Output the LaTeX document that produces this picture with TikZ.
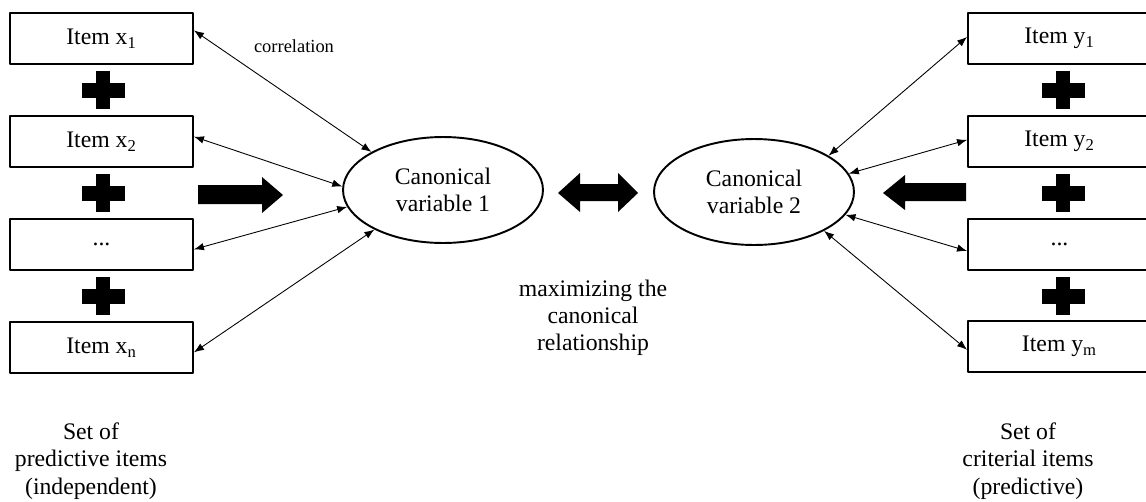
\documentclass[tikz,border=0pt]{standalone}
\usepackage{fontspec}
\setmainfont{Liberation Serif}
\usetikzlibrary{shapes.geometric,arrows.meta}
\begin{document}
\begin{tikzpicture}[x=0.02cm,y=-0.02cm,font=\fontsize{13.5}{15.5}\selectfont,line join=round,>={Latex[length=2mm,width=1.5mm]},
  item/.style={draw,line width=1.1pt,minimum width=3.66cm,minimum height=1.02cm,inner sep=0pt},
  canon/.style={draw,ellipse,line width=1.1pt,minimum width=4cm,minimum height=2.12cm,inner sep=0pt,align=center},
  link/.style={<->,line width=0.5pt}]
\clip (0,0) rectangle (1146,501);
% predictive items
\node[item] (x1) at (101.5,38.5) {Item x\textsubscript{1}};
\node[item] (x2) at (101.5,141.5) {Item x\textsubscript{2}};
\node[item] (x3) at (101.5,244.5) {...};
\node[item] (xn) at (101.5,347.5) {Item x\textsubscript{n}};
% criterial items
\node[item] (y1) at (1059.5,38.5) {Item y\textsubscript{1}};
\node[item] (y2) at (1059.5,141.5) {Item y\textsubscript{2}};
\node[item] (y3) at (1059.5,244.5) {...};
\node[item] (ym) at (1059.5,346.5) {Item y\textsubscript{m}};
% plus signs
\foreach \px in {103,1063} {
\foreach \y in {90,193,296} {
  \fill (\px-21.5,\y-7.5) rectangle (\px+21.5,\y+7.5);
  \fill (\px-7,\y-19) rectangle (\px+7,\y+19);
}}
% canonical variables
\node[canon] (c1) at (443,190) {Canonical\\variable 1};
\node[canon] (c2) at (754,192) {Canonical\\variable 2};
% big arrows
\fill (198,185) -- (262,185) -- (262,177) -- (283,195) -- (262,213) -- (262,204) -- (198,204) -- cycle;
\fill (558,193) -- (580,173) -- (580,184) -- (618,184) -- (618,173) -- (638,193) -- (618,212) -- (618,201) -- (580,201) -- (580,212) -- cycle;
\fill (883,193) -- (905,175) -- (905,183) -- (966,183) -- (966,201) -- (905,201) -- (905,210) -- cycle;
% correlations
\draw[link] (x1.5) -- (c1.152);
\draw[link] (x2.3) -- (c1.178);
\draw[link] (x3.357) -- (c1.190);
\draw[link] (xn.357) -- (c1.210);
\draw[link] (y1.179) -- (c2.26);
\draw[link] (y2.179) -- (c2.11);
\draw[link] (y3.184) -- (c2.346);
\draw[link] (ym.182) -- (c2.331);
% labels
\node (corr) at (294,46) {\fontsize{10.5}{12}\selectfont correlation};
\node[align=center] (maxim) at (593,318) {maximizing the\\canonical\\relationship};
\node[align=center] (setx) at (91,461) {Set of\\predictive items\\(independent)};
\node[align=center] (sety) at (1028,461) {Set of\\criterial items\\(predictive)};
\end{tikzpicture}
\end{document}
